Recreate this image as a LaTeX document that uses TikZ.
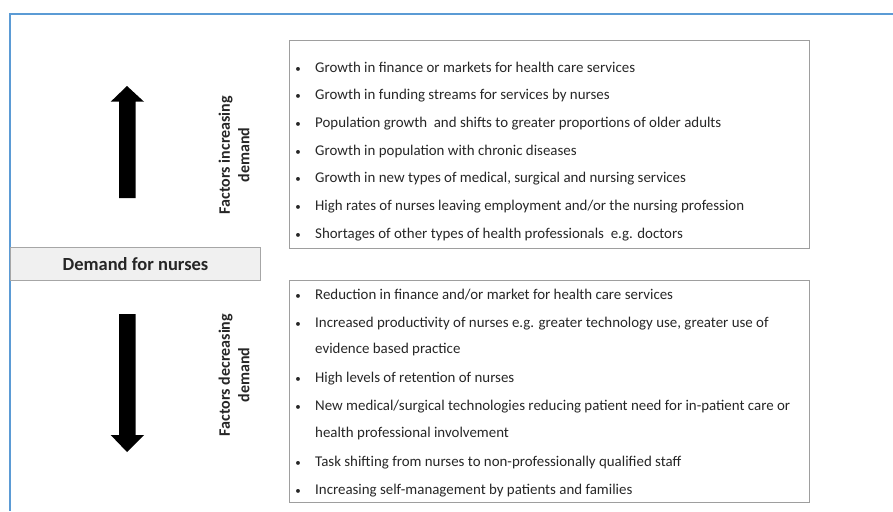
\documentclass[tikz,border=0pt]{standalone}
\usepackage{fontspec}
\setmainfont{Carlito}
\begin{document}
\begin{tikzpicture}[x=1pt,y=-1pt,
  listbox/.style={draw=black!38, line width=1.3pt, anchor=north west, inner sep=0pt},
  itemtext/.style={anchor=mid west, inner sep=0pt, yshift=-1.5pt, font=\fontsize{14.9}{16}\selectfont, text=black!85},
  bul/.style={anchor=mid, inner sep=0pt, yshift=-1.5pt, font=\fontsize{11}{12}\selectfont, text=black!85},
  sidelabel/.style={rotate=90, align=center, inner sep=0pt, font=\fontsize{16}{19.5}\selectfont\bfseries, text=black!85},
  bigarrow/.style={fill=black, draw=none}
]
\useasboundingbox (0,0) rectangle (893,511);
\definecolor{framblue}{HTML}{5B9BD5}
\draw[line width=2pt, draw=framblue] (893,14) -- (10,14) -- (10,511);

% Demand for nurses bar
\node[draw=black!35, fill=black!6, line width=1pt, anchor=north west, minimum width=250pt, minimum height=33pt, inner sep=0pt,
      font=\fontsize{18.5}{20}\selectfont\bfseries, text=black!85] (demand) at (10,247) {Demand for nurses};

% arrows
\node[inner sep=0pt] (uparrow) at (127,150) {};
\fill[bigarrow] (119,198) -- (119,101.7) -- (110.7,101.7) -- (127,86) -- (144,101.7) -- (135.7,101.7) -- (135.7,198) -- cycle;
\node[inner sep=0pt] (downarrow) at (127,380) {};
\fill[bigarrow] (119,314) -- (119,435) -- (110.7,435) -- (127,452) -- (144,435) -- (135.7,435) -- (135.7,314) -- cycle;

% side labels
\node[sidelabel] (uplabel) at (234,155) {Factors increasing\\demand};
\node[sidelabel] (downlabel) at (234,375) {Factors decreasing\\demand};

% upper box
\node[listbox, minimum width=520pt, minimum height=208pt] (upbox) at (288.5,40) {};
\foreach \y/\t [count=\i] in {
  68.3/{Growth in finance or markets for health care services},
  95.7/{Growth in funding streams for services by nurses},
  123.3/{Population growth\ \ and shifts to greater proportions of older adults},
  151.7/{Growth in population with chronic diseases},
  179/{Growth in new types of medical, surgical and nursing services},
  206.7/{High rates of nurses leaving employment and/or the nursing profession},
  235/{Shortages of other types of health professionals\ \ e.g. doctors}}{
  \node[bul] (ub\i) at (298,\y) {\textbullet};
  \node[itemtext] (ut\i) at (315,\y) {\t};
}

% lower box
\node[listbox, minimum width=520pt, minimum height=221.5pt] (downbox) at (288.5,280) {};
\foreach \y/\t [count=\i] in {
  296/{Reduction\ in finance and/or market for health care services},
  323.3/{Increased\ productivity of nurses e.g. greater\ technology use, greater\ use of},
  378.3/{High levels of retention of nurses},
  406.7/{New medical/surgical technologies reducing patient need for in-patient care or},
  462.3/{Task shifting from nurses to non-professionally\ qualified staff},
  490.7/{Increasing\ self-management\ by patients and families}}{
  \node[bul] (lb\i) at (298,\y) {\textbullet};
  \node[itemtext] (lt\i) at (315,\y) {\t};
}
\node[itemtext] (lt2b) at (315,350) {evidence\ based practice};
\node[itemtext] (lt4b) at (315,434) {health professional\ involvement};
\end{tikzpicture}
\end{document}
